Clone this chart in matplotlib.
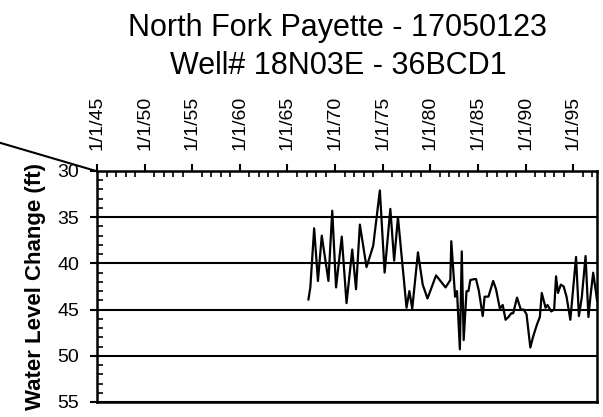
import matplotlib
matplotlib.use("Agg")
import matplotlib.pyplot as plt
from matplotlib.ticker import MultipleLocator
from matplotlib.lines import Line2D

plt.rcParams['font.family'] = ['Liberation Sans', 'DejaVu Sans']

title_lines = ["North Fork Payette - 17050123", "Well# 18N03E - 36BCD1"]
ylabel = "Water Level Change (ft)"
tick_years = [1945, 1950, 1955, 1960, 1965, 1970, 1975, 1980, 1985, 1990, 1995]
tick_labels = ["1/1/45", "1/1/50", "1/1/55", "1/1/60", "1/1/65", "1/1/70",
               "1/1/75", "1/1/80", "1/1/85", "1/1/90", "1/1/95"]
y_ticks = [30, 35, 40, 45, 50, 55]

years = [1967.2, 1967.4, 1967.8, 1968.2, 1968.6, 1969.3, 1969.7, 1970.1, 1970.7, 1971.2,
         1971.8, 1972.2, 1972.6, 1973.3, 1974.0, 1974.7, 1975.2, 1975.8, 1976.2, 1976.6,
         1977.5, 1977.8, 1978.1, 1978.7, 1979.2, 1979.7, 1980.6, 1981.6, 1982.1, 1982.2,
         1982.6, 1982.8, 1983.1, 1983.3, 1983.5, 1983.8, 1984.0, 1984.2, 1984.6, 1984.8,
         1985.1, 1985.5, 1985.7, 1986.1, 1986.6, 1986.9, 1987.3, 1987.6, 1987.9, 1988.2,
         1988.5, 1988.7, 1989.1, 1989.5, 1989.8, 1990.1, 1990.5, 1990.8, 1991.2, 1991.5,
         1991.7, 1992.1, 1992.3, 1992.7, 1993.0, 1993.2, 1993.4, 1993.7, 1994.0, 1994.3,
         1994.7, 1995.3, 1995.6, 1995.9, 1996.3, 1996.6, 1996.8, 1997.1, 1997.4, 1997.5]
levels = [43.9, 42.6, 36.2, 41.9, 37.0, 41.9, 34.3, 42.6, 37.1, 44.3,
          38.5, 42.8, 35.8, 40.4, 38.1, 32.1, 41.0, 34.1, 39.7, 35.0,
          44.8, 43.0, 44.9, 38.8, 42.3, 43.8, 41.3, 42.6, 41.8, 37.6,
          43.6, 43.0, 49.3, 38.7, 48.3, 43.0, 43.0, 41.8, 41.7, 41.7,
          43.0, 45.7, 43.6, 43.6, 41.9, 42.8, 44.9, 44.5, 46.1, 45.8,
          45.4, 45.4, 43.7, 45.0, 45.0, 45.5, 49.1, 47.9, 46.6, 45.8,
          43.2, 44.8, 44.5, 45.2, 45.0, 41.4, 43.2, 42.3, 42.5, 43.6,
          46.1, 39.3, 45.7, 43.7, 39.2, 45.8, 43.7, 41.0, 43.2, 44.0]

fig = plt.figure(figsize=(6.03, 4.17), dpi=100)
ax = fig.add_axes([97/603, 1 - 402/417, 500/603, 231/417])

ax.plot(years, levels, color='black', lw=1.6)

ax.set_xlim(1945, 1997.5)
ax.set_ylim(55, 30)

ax.set_xticks(tick_years, tick_labels, rotation=90)
ax.xaxis.set_minor_locator(MultipleLocator(1))
ax.set_yticks(y_ticks)
ax.yaxis.set_minor_locator(MultipleLocator(1))

ax.tick_params(axis='x', which='major', direction='out', length=5, width=1.5,
               top=True, bottom=False, labeltop=True, labelbottom=False,
               labelsize=14, pad=10)
ax.tick_params(axis='x', which='minor', direction='in', length=4, width=1.2,
               top=True, bottom=False)
ax.tick_params(axis='y', which='major', direction='out', length=5, width=1.5,
               left=True, right=False, labelsize=14, pad=8)
ax.tick_params(axis='y', which='minor', direction='in', length=4, width=1.2,
               left=True, right=False)

ax.yaxis.grid(True, which='major', color='black', lw=1.5)
ax.set_axisbelow(True)
for s in ax.spines.values():
    s.set_linewidth(1.8)
    s.set_color('black')

ax.set_ylabel(ylabel, fontsize=16, fontweight='bold', labelpad=8)

cx = 338 / 603
fig.text(cx, 1 - 36/417, title_lines[0], ha='center', va='baseline', fontsize=22)
fig.text(cx, 1 - 74/417, title_lines[1], ha='center', va='baseline', fontsize=22)

fig.add_artist(Line2D([-0.01, 96/603], [1 - 141/417, 1 - 171/417],
                      transform=fig.transFigure, color='black', lw=1.5))

fig.savefig("out.png", dpi=100)
